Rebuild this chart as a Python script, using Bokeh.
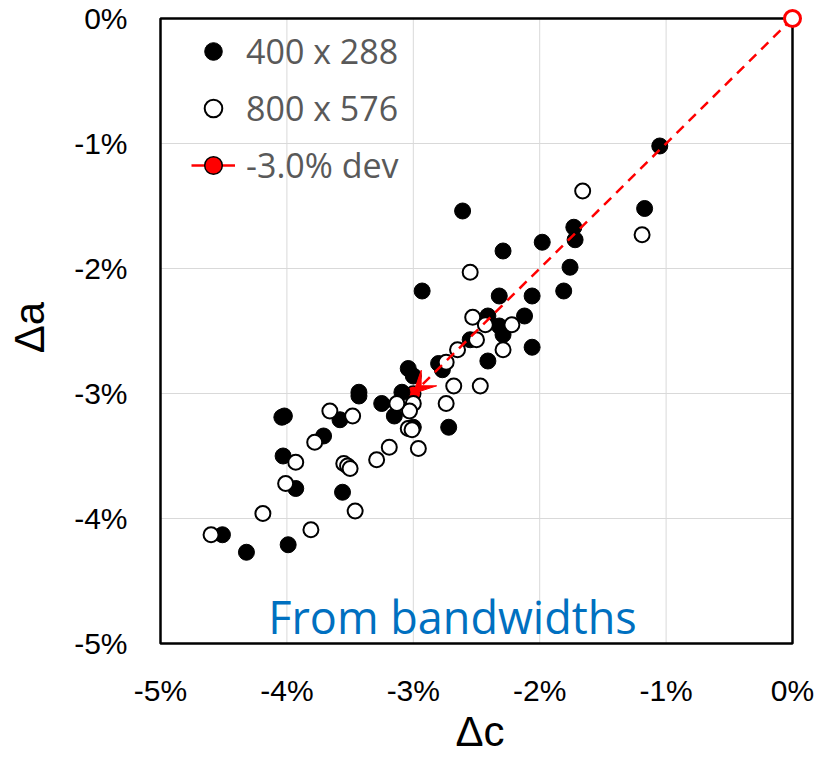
from bokeh.plotting import figure
from bokeh.models import (Range1d, FixedTicker, Legend, LegendItem, Arrow, VeeHead, Label)
from bokeh.embed import file_html
from bokeh.resources import INLINE

# 400 x 288 series (delta c %, delta a %)
lo_dc = [-1.05, -1.17, -1.73, -1.72, -1.98, -1.76, -1.81, -2.61, -2.29, -2.93,
         -2.32, -2.06, -2.41, -2.12, -2.32, -2.29, -2.55, -2.06, -2.41, -2.80,
         -2.77, -3.04, -3.00, -3.09, -2.72, -3.03, -3.00, -3.43, -3.43, -3.25,
         -3.15, -3.58, -4.04, -4.02, -3.71, -4.03, -3.93, -3.56, -4.51, -4.32,
         -3.99]
lo_da = [-1.02, -1.52, -1.67, -1.77, -1.79, -1.99, -2.18, -1.54, -1.86, -2.18,
         -2.22, -2.22, -2.38, -2.38, -2.46, -2.53, -2.57, -2.63, -2.74, -2.76,
         -2.81, -2.80, -2.86, -2.99, -3.27, -3.28, -3.27, -2.99, -3.02, -3.08,
         -3.18, -3.21, -3.19, -3.18, -3.34, -3.50, -3.76, -3.79, -4.13, -4.27,
         -4.21]

# 800 x 576 series
hi_dc = [-1.66, -1.19, -2.55, -2.53, -2.43, -2.22, -2.50, -2.65, -2.74, -2.29,
         -2.68, -2.47, -2.74, -3.00, -3.03, -3.13, -3.04, -3.01, -2.96, -3.19,
         -3.29, -3.55, -3.52, -3.50, -3.66, -3.48, -3.78, -3.93, -4.01, -4.19,
         -3.46, -3.81, -4.60]
hi_da = [-1.38, -1.73, -2.03, -2.39, -2.45, -2.45, -2.57, -2.65, -2.75, -2.65,
         -2.94, -2.94, -3.08, -3.08, -3.14, -3.08, -3.28, -3.29, -3.44, -3.43,
         -3.53, -3.56, -3.58, -3.60, -3.14, -3.18, -3.39, -3.55, -3.72, -3.96,
         -3.94, -4.09, -4.13]

# deviation reference: from origin to -3.0% / -3.0%
dev_x = [0.0, -3.0]
dev_y = [0.0, -3.0]

ticks = [-5, -4, -3, -2, -1, 0]
tick_labels = ["-5%", "-4%", "-3%", "-2%", "-1%", "0%"]
axis_min, axis_max = ticks[0], ticks[-1]

FONT = "Liberation Sans"

# pixel scale of the chart box (632 x 626 px for 5 x 5 %)
PX_X = 632 / 5.0
PX_Y = 626 / 5.0
PAD_LO, PAD_HI = 3, 10   # small extra room so the origin marker is not clipped

p = figure(width=826, height=757, output_backend="svg", toolbar_location=None,
           x_range=Range1d(axis_min - PAD_LO / PX_X, axis_max + PAD_HI / PX_X),
           y_range=Range1d(axis_min - PAD_LO / PX_Y, axis_max + PAD_HI / PX_Y),
           min_border_left=157, min_border_right=24, min_border_top=8,
           min_border_bottom=110)

p.outline_line_color = None
p.background_fill_color = "white"
p.border_fill_color = "white"
p.grid.visible = False

for ax in (p.xaxis[0], p.yaxis[0]):
    ax.ticker = FixedTicker(ticks=ticks)
    ax.major_label_overrides = {t: l for t, l in zip(ticks, tick_labels)}
    ax.axis_line_color = None
    ax.major_tick_line_color = None
    ax.minor_tick_line_color = None
    ax.major_tick_out = 0
    ax.major_tick_in = 0
    ax.major_label_text_font = FONT
    ax.major_label_text_font_size = "30px"
    ax.major_label_text_color = "black"
    ax.axis_label_text_font = FONT
    ax.axis_label_text_font_size = "42px"
    ax.axis_label_text_font_style = "normal"
    ax.axis_label_text_color = "black"

p.xaxis.axis_label = "Δc"
p.yaxis.axis_label = "Δa"
p.xaxis.major_label_standoff = 27
p.yaxis.major_label_standoff = 30
p.xaxis.axis_label_standoff = -2
p.yaxis.axis_label_standoff = 18

# grid lines over the chart box
inner = ticks[1:-1]
p.segment(x0=inner, x1=inner, y0=[axis_min] * len(inner), y1=[axis_max] * len(inner),
          line_color="#d9d9d9", line_width=1)
p.segment(x0=[axis_min] * len(inner), x1=[axis_max] * len(inner), y0=inner, y1=inner,
          line_color="#d9d9d9", line_width=1)

# chart box border
p.quad(left=[axis_min], right=[axis_max], bottom=[axis_min], top=[axis_max],
       fill_color=None, line_color="black", line_width=2.5)

# red deviation target marker (under the data)
r_dev_pt = p.scatter(x=[dev_x[1]], y=[dev_y[1]], size=15, marker="circle",
                     fill_color="red", line_color="black", line_width=1.5)

r_lo = p.scatter(x=lo_dc, y=lo_da, size=16, marker="circle",
                 fill_color="black", line_color="black", line_width=1)
r_hi = p.scatter(x=hi_dc, y=hi_da, size=15, marker="circle",
                 fill_color="white", line_color="black", line_width=2)

# dashed deviation line and its arrow head
p.line(x=dev_x, y=dev_y, line_color="red", line_width=2.5, line_dash="10 7")
p.add_layout(Arrow(x_start=dev_x[0], y_start=dev_y[0], x_end=dev_x[1], y_end=dev_y[1],
                   line_alpha=0.0,
                   end=VeeHead(size=22, fill_color="red", line_color="red", line_width=1)))

# open red circle at the origin
p.scatter(x=[dev_x[0]], y=[dev_y[0]], size=16, marker="circle",
          fill_color="white", line_color="red", line_width=3)

# legend-only line for the deviation item (zero-length segment at the target)
leg_line = p.line(x=[dev_x[1], dev_x[1]], y=[dev_y[1], dev_y[1]],
                  line_color="red", line_width=2.5)

legend = Legend(items=[
    LegendItem(label="400 x 288", renderers=[r_lo]),
    LegendItem(label="800 x 576", renderers=[r_hi]),
    LegendItem(label="-3.0% dev", renderers=[leg_line, r_dev_pt]),
], location=(34, 458))
legend.border_line_color = None
legend.background_fill_alpha = 0.0
legend.label_text_font = "Open Sans"
legend.label_text_font_size = "34px"
legend.label_text_color = "#595959"
legend.glyph_width = 44
legend.glyph_height = 46
legend.label_height = 46
legend.spacing = 11
legend.padding = 0
legend.margin = 0
legend.label_standoff = 11
p.add_layout(legend)

p.add_layout(Label(x=-2.69, y=-4.78, text="From bandwidths", text_align="center",
                   text_baseline="alphabetic", text_font="Open Sans",
                   text_font_size="45px", text_color="#0070C0"))

open("out.html", "w").write(file_html(p, INLINE))
